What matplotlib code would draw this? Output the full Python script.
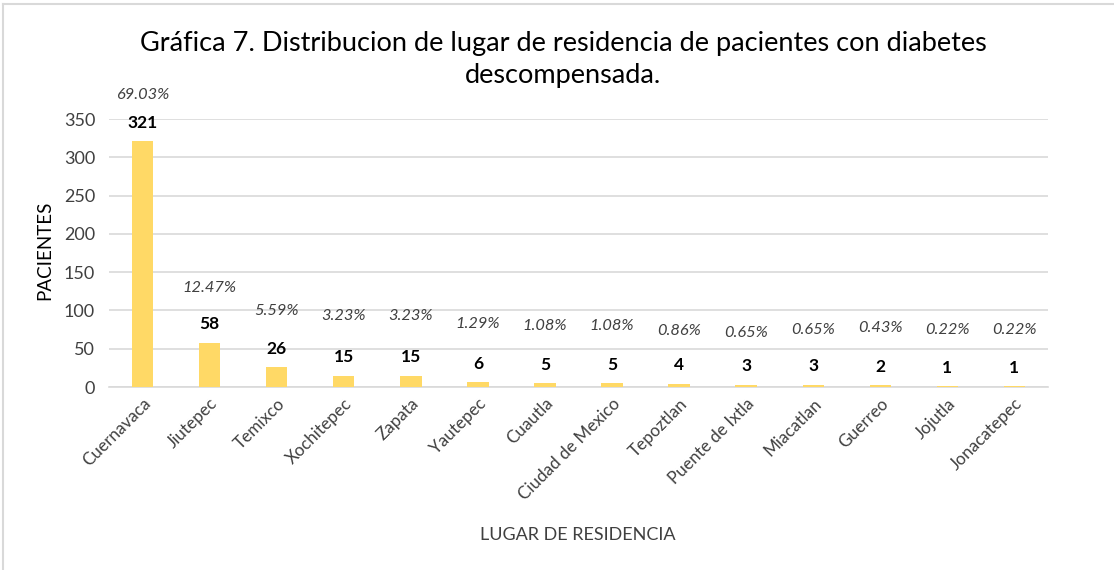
import matplotlib
matplotlib.use("Agg")
import matplotlib.pyplot as plt
from matplotlib.lines import Line2D

# ---- data ----
categories = ["Cuernavaca", "Jiutepec", "Temixco", "Xochitepec", "Zapata", "Yautepec",
              "Cuautla", "Ciudad de Mexico", "Tepoztlan", "Puente de Ixtla", "Miacatlan",
              "Guerreo", "Jojutla", "Jonacatepec"]
pacientes = [321, 58, 26, 15, 15, 6, 5, 5, 4, 3, 3, 2, 1, 1]
porcentajes = ["69.03%", "12.47%", "5.59%", "3.23%", "3.23%", "1.29%", "1.08%", "1.08%",
               "0.86%", "0.65%", "0.65%", "0.43%", "0.22%", "0.22%"]
yticks = [0, 50, 100, 150, 200, 250, 300, 350]
title = "Gráfica 7. Distribucion de lugar de residencia de pacientes con diabetes\ndescompensada."

# ---- style / layout ----
plt.rcParams['font.family'] = ['Lato', 'DejaVu Sans']
W, H = 1114, 570
fig = plt.figure(figsize=(W / 100, H / 100), dpi=100)
fig.patch.set_facecolor("white")

left, right, top, bottom = 109, 1048, 119, 387
ax = fig.add_axes([left / W, 1 - bottom / H, (right - left) / W, (bottom - top) / H])

x = list(range(len(categories)))
ax.bar(x, pacientes, width=0.32, color="#FFD966", zorder=3)
ax.set_xlim(-0.5, len(categories) - 0.5)
ax.set_ylim(0, 350)
ax.set_yticks(yticks)
ax.set_yticklabels([str(v) for v in yticks], fontsize=13, color="#404040")
ax.set_xticks(x)
ax.set_xticklabels(categories, rotation=45, ha="right", rotation_mode="anchor",
                   fontsize=12.3, color="#404040")
ax.tick_params(axis="both", length=0)
ax.tick_params(axis="y", pad=10)
ax.tick_params(axis="x", pad=6)
ax.grid(axis="y", color="#D9D9D9", linewidth=1.2, zorder=0)
for s in ["top", "right", "left"]:
    ax.spines[s].set_visible(False)
ax.spines["bottom"].set_color("#D9D9D9")
ax.spines["bottom"].set_linewidth(1.2)

# value labels (px above bar top) and percentage labels
val_off_px = 18.5
pct_off_px = [46, 55, 56, 60, 60, 58, 57, 57, 53, 52, 55, 57, 56, 56]
for i, (v, p) in enumerate(zip(pacientes, porcentajes)):
    ax.annotate(str(v), (i, v), xytext=(0, val_off_px * 0.72), textcoords="offset points",
                ha="center", va="center", fontsize=12.5, fontweight="bold", color="black")
    ax.annotate(p, (i, v), xytext=(0, pct_off_px[i] * 0.72), textcoords="offset points",
                ha="center", va="center", fontsize=11.8, style="italic", color="#404040",
                annotation_clip=False)

fig.text(563 / W, 1 - 60 / H, title, ha="center", va="center", fontsize=19.5,
         color="black", linespacing=1.35)
fig.text(578 / W, 1 - 535 / H, "LUGAR DE RESIDENCIA", ha="center", va="center",
         fontsize=13, color="#404040")
fig.text(45 / W, 1 - 250 / H, "PACIENTES", ha="center", va="center", rotation=90,
         fontsize=13.5, color="black")

# chart border (top and left visible)
fig.add_artist(Line2D([3 / W, 3 / W], [0, 1 - 4 / H], transform=fig.transFigure,
                      color="#D9D9D9", linewidth=1.5))
fig.add_artist(Line2D([3 / W, 1], [1 - 4 / H, 1 - 4 / H], transform=fig.transFigure,
                      color="#D9D9D9", linewidth=1.5))

fig.savefig("out.png", dpi=100, facecolor="white")
